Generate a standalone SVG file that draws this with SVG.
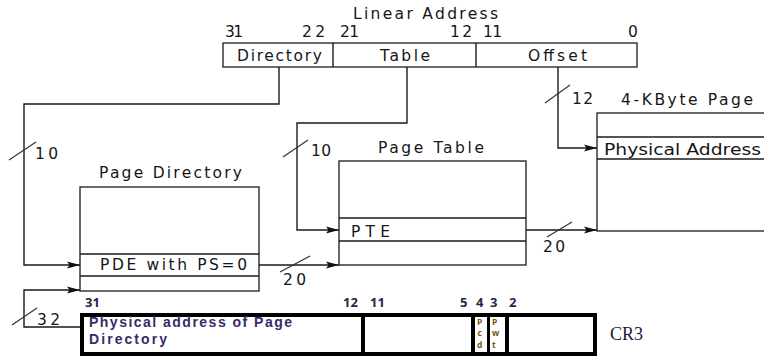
<svg xmlns="http://www.w3.org/2000/svg" width="764" height="358" viewBox="0 0 764 358">
<style>
.t{font-family:"DejaVu Sans",Verdana,sans-serif;font-size:15.5px;fill:#161616}
.box{fill:#fff;stroke:#2a2a2a;stroke-width:1.4}
.ln{fill:none;stroke:#1a1a1a;stroke-width:1.4}
.sl{stroke:#333;stroke-width:1.2}
.b{font-family:"Open Sans","Liberation Sans",sans-serif;font-size:13px;font-weight:bold;fill:#2b2545}
.c{font-family:"Liberation Sans",Arial,sans-serif;font-size:14px;font-weight:bold;fill:#3a2a6a}
.s{font-family:"Open Sans","Liberation Sans",sans-serif;font-size:8.5px;font-weight:bold;fill:#7a5410}
.thick{fill:none;stroke:#000;stroke-width:4}
</style>
<defs>
<marker id="ah" markerUnits="userSpaceOnUse" markerWidth="14" markerHeight="8" refX="13" refY="4" orient="auto">
<path d="M0,0.6 L13,4 L0,7.4 L2.5,4 z" fill="#111"/>
</marker>
</defs>
<g id="linear-address">
<text class="t" x="353" y="19" textLength="145" lengthAdjust="spacing">Linear Address</text>
<text class="t" x="225" y="37" textLength="18" lengthAdjust="spacing">31</text>
<text class="t" x="302" y="37" textLength="23" lengthAdjust="spacing">22</text>
<text class="t" x="340" y="37" textLength="19" lengthAdjust="spacing">21</text>
<text class="t" x="450" y="37" textLength="22" lengthAdjust="spacing">12</text>
<text class="t" x="483" y="37" textLength="19" lengthAdjust="spacing">11</text>
<text class="t" x="628" y="37">0</text>
<rect class="box" x="223" y="43" width="414" height="24"/>
<line class="ln" x1="333" y1="43" x2="333" y2="67"/>
<line class="ln" x1="476" y1="43" x2="476" y2="67"/>
<text class="t" x="237" y="61" textLength="85" lengthAdjust="spacing">Directory</text>
<text class="t" x="380" y="61" textLength="50" lengthAdjust="spacing">Table</text>
<text class="t" x="528" y="61" textLength="59" lengthAdjust="spacing">Offset</text>
</g>
<g id="page-directory">
<text class="t" x="99" y="178" textLength="143" lengthAdjust="spacing">Page Directory</text>
<rect class="box" x="80" y="187" width="179" height="104"/>
<line class="ln" x1="80" y1="254" x2="259" y2="254"/>
<line class="ln" x1="80" y1="276" x2="259" y2="276"/>
<text class="t" x="100" y="270" textLength="147" lengthAdjust="spacing">PDE with PS=0</text>
</g>
<g id="page-table">
<text class="t" x="378" y="153" textLength="106" lengthAdjust="spacing">Page Table</text>
<rect class="box" x="339" y="161" width="187" height="104"/>
<line class="ln" x1="339" y1="218" x2="526" y2="218"/>
<line class="ln" x1="339" y1="241" x2="526" y2="241"/>
<text class="t" x="351" y="237" textLength="39" lengthAdjust="spacing">PTE</text>
</g>
<g id="page-4k">
<text class="t" x="621" y="105" textLength="132" lengthAdjust="spacing">4-KByte Page</text>
<rect class="box" x="597" y="113" width="180" height="118"/>
<line class="ln" x1="597" y1="137" x2="770" y2="137"/>
<line class="ln" x1="597" y1="159" x2="770" y2="159"/>
<text class="t" x="604" y="155" textLength="157" lengthAdjust="spacingAndGlyphs">Physical Address</text>
</g>
<g id="cr3">
<text class="b" x="85" y="307">31</text>
<text class="b" x="343" y="307">12</text>
<text class="b" x="370" y="307">11</text>
<text class="b" x="460" y="307">5</text>
<text class="b" x="476" y="307">4</text>
<text class="b" x="490" y="307">3</text>
<text class="b" x="509" y="307">2</text>
<rect class="thick" x="82" y="315" width="513" height="39"/>
<line class="thick" x1="363" y1="315" x2="363" y2="354"/>
<line class="thick" x1="473" y1="315" x2="473" y2="354"/>
<line style="stroke:#000;stroke-width:3" x1="488.5" y1="315" x2="488.5" y2="354"/>
<line class="thick" x1="507" y1="315" x2="507" y2="354"/>
<text class="c" x="89" y="327" textLength="203" lengthAdjust="spacing">Physical address of Page</text>
<text class="c" x="89" y="344" textLength="78" lengthAdjust="spacing">Directory</text>
<text class="s" x="477" y="325">P</text>
<text class="s" x="477.5" y="336">c</text>
<text class="s" x="477" y="348">d</text>
<text class="s" x="492" y="325">P</text>
<text class="s" x="492" y="336">w</text>
<text class="s" x="492" y="348">t</text>
<text x="610" y="340" style="font-family:'Liberation Serif','Times New Roman',serif;font-size:18px;fill:#1a1a3a">CR3</text>
</g>
<g id="connectors">
<path class="ln" d="M279,67 V104 H24 V265 H80" marker-end="url(#ah)"/>
<path class="ln" d="M407,67 V123 H297 V230 H339" marker-end="url(#ah)"/>
<path class="ln" d="M558,67 V148 H597" marker-end="url(#ah)"/>
<path class="ln" d="M259,265 H339" marker-end="url(#ah)"/>
<path class="ln" d="M526,230 H597" marker-end="url(#ah)"/>
<path class="ln" d="M80,327 H24 V290 H80" marker-end="url(#ah)"/>
<line class="sl" x1="9" y1="160" x2="36" y2="142"/>
<line class="sl" x1="283" y1="157" x2="308" y2="140"/>
<line class="sl" x1="545" y1="103" x2="570" y2="85"/>
<line class="sl" x1="280" y1="272" x2="310" y2="256"/>
<line class="sl" x1="547" y1="237" x2="572" y2="222"/>
<line class="sl" x1="12" y1="325" x2="37" y2="308"/>
<text class="t" x="35" y="159" textLength="23" lengthAdjust="spacing">10</text>
<text class="t" x="311" y="156" textLength="20" lengthAdjust="spacing">10</text>
<text class="t" x="572" y="104" textLength="21" lengthAdjust="spacing">12</text>
<text class="t" x="283" y="285" textLength="23" lengthAdjust="spacing">20</text>
<text class="t" x="543" y="252" textLength="22" lengthAdjust="spacing">20</text>
<text class="t" x="37" y="325" textLength="23" lengthAdjust="spacing">32</text>
</g>
</svg>
